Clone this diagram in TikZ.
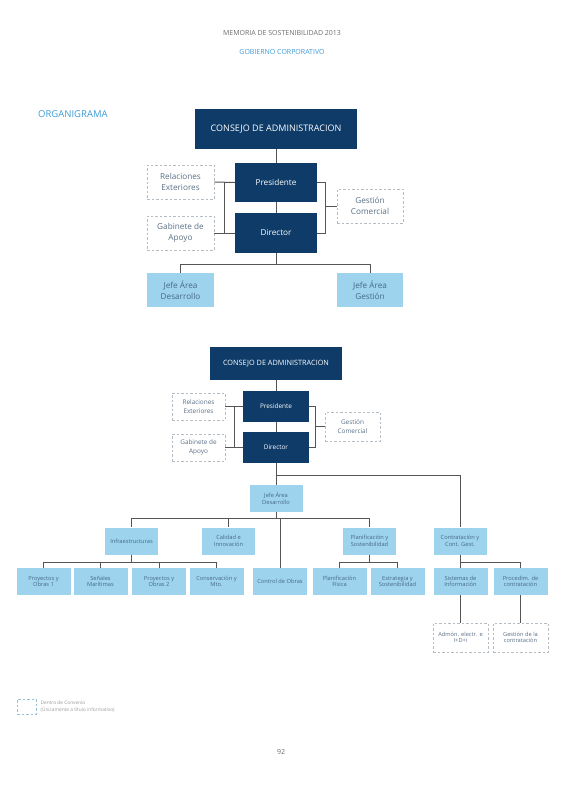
\documentclass[tikz,border=0pt]{standalone}
\usepackage{fontspec}
\setmainfont{Open Sans}
\usetikzlibrary{calc}
\definecolor{navy}{HTML}{0E3B68}
\definecolor{skyfill}{HTML}{9DD3EC}
\definecolor{skytext}{HTML}{46698A}
\definecolor{dashline}{HTML}{B4BCC4}
\definecolor{dashtext}{HTML}{5A6F85}
\definecolor{linkgray}{HTML}{555555}
\definecolor{titleblue}{HTML}{3C9AD4}
\begin{document}
\begin{tikzpicture}[x=1pt,y=-1pt,
  navybox/.style={fill=navy, text=white, align=center, inner sep=0pt},
  skybox/.style={fill=skyfill, text=skytext, align=center, inner sep=0pt},
  dashbox/.style={draw=dashline, line width=0.8pt, dash pattern=on 2.5pt off 2pt,
    text=dashtext, align=center, inner sep=0pt},
  link/.style={draw=linkgray, line width=1pt},
  big/.style={font=\fontsize{8.2}{11}\selectfont},
  mid/.style={font=\fontsize{6.4}{8.6}\selectfont},
  tiny/.style={font=\fontsize{5.7}{6.4}\selectfont}]
\useasboundingbox (0,0) rectangle (565,800);
% Header
\node[text=gray!85!black, font=\fontsize{7}{8}\selectfont] (memoria) at (282,33) {MEMORIA DE SOSTENIBILIDAD 2013};
\node[text=titleblue, font=\fontsize{7}{8}\selectfont] (gobierno) at (282,52) {GOBIERNO CORPORATIVO};
\node[text=titleblue, font=\fontsize{9.5}{10}\selectfont, anchor=west, inner sep=0pt] (organigrama) at (38,114) {ORGANIGRAMA};
% First chart
\node[navybox, font=\fontsize{9}{11}\selectfont, minimum width=162pt, minimum height=40pt] (consejoA) at (276,129) {CONSEJO DE ADMINISTRACION};
\node[navybox, big, minimum width=82pt, minimum height=39pt] (presA) at (276,182.5) {Presidente};
\node[navybox, big, minimum width=82pt, minimum height=40pt] (dirA) at (276,233) {Director};
\node[dashbox, big, minimum width=67pt, minimum height=34pt] (relA) at (180.5,182) {Relaciones\\Exteriores};
\node[dashbox, big, minimum width=67pt, minimum height=34pt] (gabA) at (180.5,233) {Gabinete de\\Apoyo};
\node[dashbox, big, minimum width=66pt, minimum height=34pt] (gesA) at (370,206) {Gestión\\Comercial};
\node[skybox, big, minimum width=67pt, minimum height=34pt] (jdesA) at (180.5,290) {Jefe Área\\Desarrollo};
\node[skybox, big, minimum width=66pt, minimum height=34pt] (jgesA) at (370,290) {Jefe Área\\Gestión};
\coordinate (lbA) at ($(relA.east)!0.5!(presA.west)$);
\coordinate (rbA) at (325,206);
\draw[link] (consejoA) -- (presA);
\draw[link] (presA) -- (dirA);
\draw[link] (relA.east) -- (presA.west);
\draw[link] (gabA.east) -- (dirA.west);
\draw[link] (lbA) -- (lbA |- dirA.west);
\draw[link] (presA.east) -| (rbA);
\draw[link] (dirA.east) -| (rbA);
\draw[link] (rbA) -- (gesA.west);
\draw[link] (dirA.south) -- ++(0,11) -| (jdesA.north);
\draw[link] (dirA.south) -- ++(0,11) -| (jgesA.north);
% Second chart
\node[navybox, font=\fontsize{7.3}{8.6}\selectfont, minimum width=132pt, minimum height=33pt] (consejoB) at (276,363.5) {CONSEJO DE ADMINISTRACION};
\node[navybox, mid, minimum width=66pt, minimum height=31pt] (presB) at (276,406.5) {Presidente};
\node[navybox, mid, minimum width=66pt, minimum height=31pt] (dirB) at (276,447.5) {Director};
\node[dashbox, mid, minimum width=53pt, minimum height=27pt] (relB) at (198.5,406.5) {Relaciones\\Exteriores};
\node[dashbox, mid, minimum width=53pt, minimum height=27pt] (gabB) at (198.5,447.5) {Gabinete de\\Apoyo};
\node[dashbox, mid, minimum width=55pt, minimum height=29pt] (gesB) at (352.5,426.5) {Gestión\\Comercial};
\coordinate (lbB) at ($(relB.east)!0.5!(presB.west)$);
\coordinate (rbB) at (315,426.5);
\draw[link] (consejoB) -- (presB);
\draw[link] (presB) -- (dirB);
\draw[link] (relB.east) -- (presB.west);
\draw[link] (gabB.east) -- (dirB.west);
\draw[link] (lbB) -- (lbB |- dirB.west);
\draw[link] (presB.east) -| (rbB);
\draw[link] (dirB.east) -| (rbB);
\draw[link] (rbB) -- (gesB.west);
% Jefe Area Desarrollo and its areas
\node[skybox, tiny, minimum width=53pt, minimum height=27pt] (jdesB) at (276,498.5) {Jefe Área\\Desarrollo};
\node[skybox, tiny, minimum width=53pt, minimum height=27pt] (infB) at (131.5,541) {Infraestructuras};
\node[skybox, tiny, minimum width=53pt, minimum height=27pt] (calB) at (228.5,541) {Calidad e\\Innovación};
\node[skybox, tiny, minimum width=53pt, minimum height=27pt] (plaB) at (369.5,541) {Planificación y\\Sostenibilidad};
\node[skybox, tiny, minimum width=53pt, minimum height=27pt] (conB) at (460,541) {Contratación y\\Cont. Gest.};
\draw[link] (dirB) -- (jdesB);
\draw[link] (dirB.south) -- ++(0,12) -| (conB.north);
% Bottom row
\foreach \name/\x/\txt in {pob1B/43.5/{Proyectos y\\Obras 1}, senB/100.5/{Señales\\Marítimas},
    pob2B/159/{Proyectos y\\Obras 2}, cmtoB/216.5/{Conservación y\\Mto.}, ctrlB/280/{Control de Obras},
    pfiB/339.5/{Planificación\\Física}, estB/397.5/{Estrategia y\\Sostenibilidad},
    sisB/460.5/{Sistemas de\\Información}, proB/520.5/{Procedim. de\\contratación}}
  \node[skybox, tiny, minimum width=54pt, minimum height=27pt] (\name) at (\x,581.5) {\txt};
\foreach \n in {infB,calB,ctrlB,plaB}
  \draw[link] (jdesB.south) -- ++(0,6) -| (\n.north);
\foreach \n in {pob1B,senB,pob2B,cmtoB}
  \draw[link] (infB.south) -- ++(0,8) -| (\n.north);
\foreach \n in {pfiB,estB}
  \draw[link] (plaB.south) -- ++(0,8) -| (\n.north);
\foreach \n in {sisB,proB}
  \draw[link] (conB.south) -- ++(0,8) -| (\n.north);
% Dashed units under Contratacion
\node[dashbox, tiny, minimum width=55pt, minimum height=29pt] (admB) at (460.5,637.5) {Admón. electr. e\\I+D+i};
\node[dashbox, tiny, minimum width=55pt, minimum height=29pt] (gctB) at (520.5,637.5) {Gestión de la\\contratación};
\draw[link] (sisB) -- (admB);
\draw[link] (proB) -- (gctB);
% Legend and page number
\node[dashbox, draw=skyfill!80!gray, minimum width=19pt, minimum height=15pt] (legB) at (26.5,706.5) {};
\node[text=gray!80, font=\fontsize{4.8}{6.5}\selectfont, anchor=west, align=left, inner sep=0pt] (legtxt) at ([xshift=4pt]legB.east) {Dentro de Convenio\\(Únicamente a título informativo)};
\node[text=gray!85!black, font=\fontsize{7}{8}\selectfont] (page) at (281,752) {92};
\end{tikzpicture}
\end{document}
